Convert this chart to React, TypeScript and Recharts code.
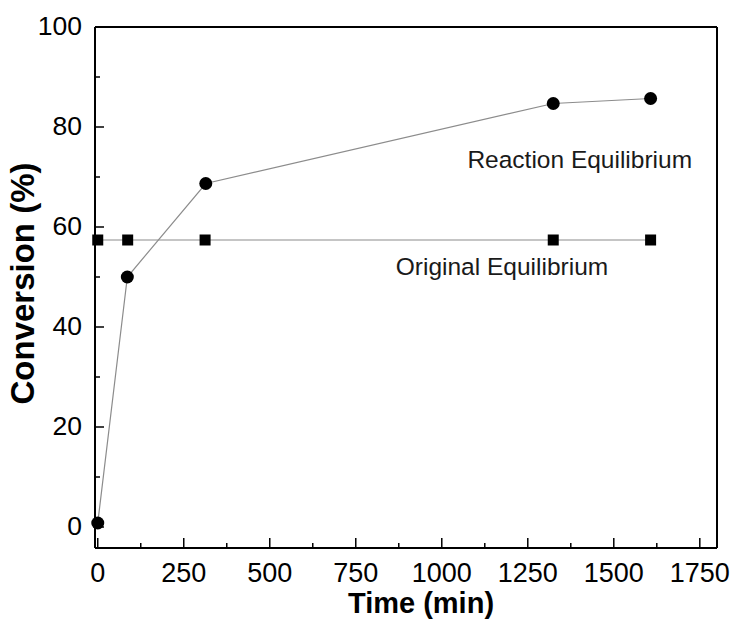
import React from "react";
import { LineChart, Line, XAxis, YAxis, ReferenceLine, ReferenceDot } from "recharts";

// values
const reactionTime = [0, 86, 314, 1324, 1607];
const reactionConv = [0.8, 50, 68.7, 84.7, 85.7];
const originalTime = [0, 87, 312, 1324, 1607];
const originalConv = [57.4, 57.4, 57.4, 57.4, 57.4];

const xTicks = [0, 125, 250, 375, 500, 625, 750, 875, 1000, 1125, 1250, 1375, 1500, 1625, 1750];
const xMajor = [0, 250, 500, 750, 1000, 1250, 1500, 1750];
const yTicks = [0, 10, 20, 30, 40, 50, 60, 70, 80, 90, 100];
const yMajor = [0, 20, 40, 60, 80, 100];

const annotations = [
  { label: "Reaction Equilibrium", t: 1401, c: 71.8 },
  { label: "Original Equilibrium", t: 1175, c: 50.4 },
];

const FONT = "'Liberation Sans', Arial, sans-serif";

const reactionData = reactionTime.map((t, i) => ({ t, c: reactionConv[i] }));
const originalData = originalTime.map((t, i) => ({ t, c: originalConv[i] }));

function XTick({ x, y, payload }: any) {
  const major = xMajor.includes(payload.value);
  return (
    <g>
      <line x1={x} x2={x} y1={y} y2={y - (major ? 10 : 5)} stroke="#000" strokeWidth={1.5} />
      {major && (
        <text x={x} y={y + 34} textAnchor="middle" fontSize={27} fontFamily={FONT} fill="#000">
          {payload.value}
        </text>
      )}
    </g>
  );
}

function YTick({ x, y, payload }: any) {
  const major = yMajor.includes(payload.value);
  return (
    <g>
      <line x1={x} x2={x + (major ? 9 : 5)} y1={y} y2={y} stroke="#000" strokeWidth={1.5} />
      {major && (
        <text x={x - 13} y={y + 8} textAnchor="end" fontSize={26.5} fontFamily={FONT} fill="#000">
          {payload.value}
        </text>
      )}
    </g>
  );
}

function SquareDot({ cx, cy, index }: any) {
  return <rect key={`sq-${index}`} x={cx - 5.5} y={cy - 5.5} width={11} height={11} fill="#000" />;
}

export default function App() {
  return (
    <div style={{ position: "absolute", left: 0, top: 0, background: "#fff" }}>
      <LineChart width={734} height={625} margin={{ top: 27, right: 17, left: 0, bottom: 0 }}>
        <XAxis
          dataKey="t"
          type="number"
          domain={[-8, 1800]}
          ticks={xTicks}
          interval={0}
          height={77}
          tickSize={0}
          tickMargin={0}
          tickLine={false}
          tick={<XTick />}
          axisLine={{ stroke: "#000", strokeWidth: 2 }}
          label={(p: any) => {
            const vb = p.viewBox;
            return (
              <text
                x={vb.x + vb.width / 2 + 15}
                y={vb.y + 65}
                textAnchor="middle"
                fontSize={29}
                fontWeight="bold"
                fontFamily={FONT}
                fill="#000"
              >
                Time (min)
              </text>
            );
          }}
        />
        <YAxis
          type="number"
          domain={[-4.2, 100]}
          ticks={yTicks}
          interval={0}
          width={95}
          tickSize={0}
          tickMargin={0}
          tickLine={false}
          tick={<YTick />}
          axisLine={{ stroke: "#000", strokeWidth: 2 }}
          label={(p: any) => {
            const vb = p.viewBox;
            const cy = vb.y + vb.height / 2 - 4;
            return (
              <text
                x={34}
                y={cy}
                transform={`rotate(-90, 34, ${cy})`}
                textAnchor="middle"
                fontSize={33}
                fontWeight="bold"
                fontFamily={FONT}
                fill="#000"
              >
                Conversion (%)
              </text>
            );
          }}
        />
        <ReferenceLine y={100} stroke="#000" strokeWidth={2} />
        <ReferenceLine x={1800} stroke="#000" strokeWidth={2} />
        <Line
          data={originalData}
          dataKey="c"
          stroke="#8c8c8c"
          strokeWidth={1.2}
          dot={(p: any) => <SquareDot key={`sq-${p.index}`} {...p} />}
          activeDot={false}
          isAnimationActive={false}
        />
        <Line
          data={reactionData}
          dataKey="c"
          stroke="#8c8c8c"
          strokeWidth={1.2}
          dot={{ r: 6.5, fill: "#000", stroke: "#000", strokeWidth: 0 }}
          activeDot={false}
          isAnimationActive={false}
        />
        {annotations.map((a) => (
          <ReferenceDot
            key={a.label}
            x={a.t}
            y={a.c}
            r={0}
            fill="none"
            stroke="none"
            label={(p: any) => {
              const vb = p.viewBox;
              return (
                <text x={vb.x} y={vb.y} textAnchor="middle" fontSize={24.5} fontFamily={FONT} fill="#1a1a1a">
                  {a.label}
                </text>
              );
            }}
          />
        ))}
      </LineChart>
    </div>
  );
}
